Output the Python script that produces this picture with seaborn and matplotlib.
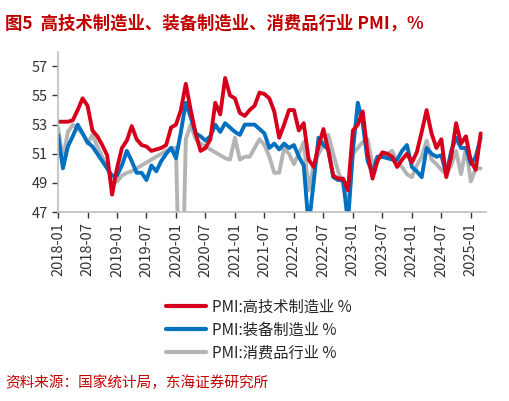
import numpy as np
import pandas as pd
import seaborn as sns
import matplotlib.pyplot as plt

months = pd.date_range('2018-01-01', periods=87, freq='MS')

hightech = [53.2, 53.2, 53.2, 53.3, 54.0, 54.8, 54.3, 52.6, 52.2, 51.6, 50.9, 48.2,
            50.0, 51.4, 51.9, 52.9, 52.0, 51.6, 51.5, 51.2, 51.3, 51.4, 51.6, 52.8,
            53.0, 54.0, 55.8, 54.0, 52.4, 51.2, 51.4, 52.0, 54.5, 53.7, 56.2, 55.0,
            54.8, 53.8, 53.6, 54.0, 54.3, 55.2, 55.1, 54.8, 53.9, 52.1, 53.0, 54.0,
            54.0, 52.6, 53.1, 50.6, 50.1, 51.5, 52.7, 51.2, 49.5, 49.3, 49.3, 48.5,
            52.6, 53.0, 53.9, 51.0, 49.3, 50.5, 51.1, 51.0, 50.8, 50.1, 50.6, 51.0,
            50.4, 51.1, 52.5, 54.0, 52.4, 51.4, 52.0, 49.4, 50.8, 53.1, 51.7, 52.2,
            50.5, 49.9, 52.4]
equipment = [52.3, 50.0, 51.5, 52.2, 53.0, 52.4, 51.8, 51.5, 51.0, 50.5, 50.0, 49.5,
             49.5, 50.2, 51.2, 50.5, 49.7, 49.7, 49.2, 50.2, 49.8, 50.5, 51.0, 51.4,
             50.7, 52.5, 54.5, 53.5, 52.4, 52.2, 51.9, 52.2, 53.0, 52.5, 53.1, 52.8,
             52.5, 52.3, 53.0, 53.0, 53.0, 52.7, 52.4, 51.4, 51.7, 51.3, 51.7, 51.4,
             51.6, 50.8, 50.2, 46.0, 49.0, 52.1, 51.6, 51.3, 49.4, 49.2, 49.2, 46.3,
             51.2, 54.5, 53.1, 50.5, 49.7, 50.8, 50.8, 50.7, 50.6, 50.6, 51.2, 51.6,
             50.1, 49.8, 49.4, 51.4, 51.0, 50.8, 50.9, 49.6, 51.2, 52.1, 51.4, 51.4,
             50.3, 50.8, 52.1]
consumer = [52.8, 50.6, 52.5, 53.0, 52.7, 52.4, 51.7, 52.3, 51.5, 50.8, 50.0, 49.3,
            49.1, 49.5, 49.7, 49.8, 50.0, 50.2, 50.4, 50.6, 50.8, 51.0, 51.2, 51.4,
            51.4, 37.0, 52.0, 53.0, 52.0, 51.7, 51.5, 51.3, 51.1, 50.9, 50.7, 50.6,
            52.1, 50.6, 50.8, 50.8, 51.4, 52.0, 51.6, 50.8, 49.7, 49.7, 51.4, 51.0,
            50.3, 51.0, 51.8, 48.5, 50.2, 51.0, 51.6, 52.3, 51.0, 49.8, 48.9, 47.2,
            51.0, 51.4, 51.8, 52.0, 50.2, 50.8, 50.8, 51.0, 51.2, 50.4, 50.1, 49.6,
            49.4, 50.2, 50.8, 51.9, 50.6, 50.3, 49.9, 49.6, 50.2, 51.2, 49.6, 51.4,
            49.1, 50.0, 50.0]
names = ['PMI:高技术制造业 %', 'PMI:装备制造业 %', 'PMI:消费品行业 %']
colors = ['#D7001C', '#0070C0', '#B4B4B4']

df = pd.DataFrame({'idx': np.arange(len(months)),
                   names[0]: hightech, names[1]: equipment, names[2]: consumer})
long = df.melt(id_vars='idx', var_name='series', value_name='value')

sns.set_style('white')
plt.rcParams['font.family'] = ['Noto Sans CJK SC', 'DejaVu Sans']

fig = plt.figure(figsize=(5.09, 4.01), dpi=100)
ax = fig.add_axes([0.114, 0.471, 0.84, 0.40])
sns.lineplot(data=long, x='idx', y='value', hue='series', hue_order=names[::-1],
             palette=dict(zip(names, colors)), linewidth=2.8, ax=ax, legend=False)

ax.set_ylim(47, 58)
ax.set_yticks(range(47, 58, 2))
ax.set_xlim(0, 87)
tick_pos = list(range(0, 87, 6))
ax.set_xticks(tick_pos)
ax.set_xticklabels([months[i].strftime('%Y-%m') for i in tick_pos], rotation=90)
ax.tick_params(axis='both', labelsize=10.5, colors='#333333', length=4, width=1,
               direction='out', bottom=True, left=True)
ax.set_xlabel('')
ax.set_ylabel('')
for s in ['top', 'right']:
    ax.spines[s].set_visible(False)
for s in ['left', 'bottom']:
    ax.spines[s].set_color('#BFBFBF')
    ax.spines[s].set_linewidth(1.2)

handles = [plt.Line2D([], [], color=c, lw=3) for c in colors]
fig.legend(handles, names, loc='upper left', bbox_to_anchor=(0.3, 0.29),
           frameon=False, fontsize=11, handlelength=2.6, labelspacing=0.4,
           handletextpad=0.4)

fig.text(0.01, 0.965, '图5  高技术制造业、装备制造业、消费品行业 PMI，%', fontsize=12.5,
         fontweight='bold', color='#C00000', va='top')
fig.text(0.01, 0.045, '资料来源：国家统计局，东海证券研究所', fontsize=10.5,
         color='#C00000', va='center')

fig.savefig('out.png', dpi=100)
